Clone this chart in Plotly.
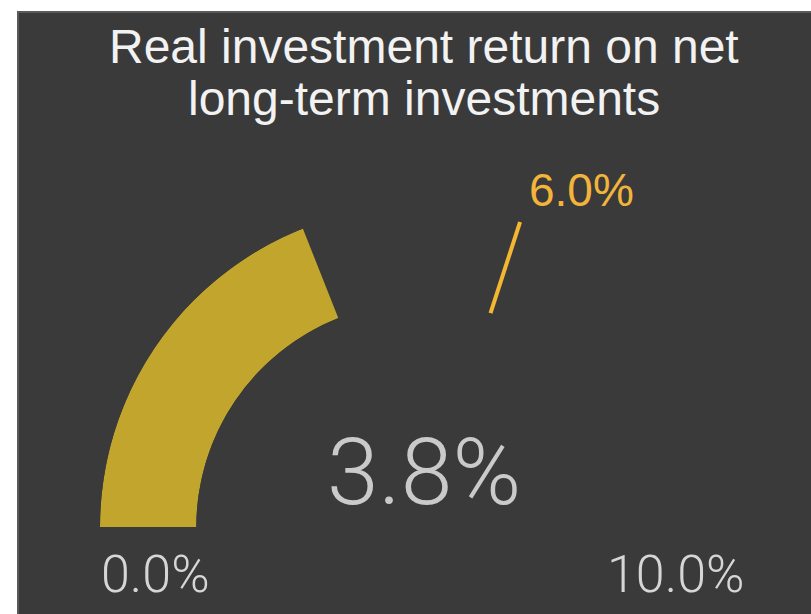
import plotly.graph_objects as go

# ---- data ----
title_lines = ["Real investment return on net", "long-term investments"]
gauge_min = 0.0
gauge_max = 10.0
value = 3.8
target = 6.0
unit = "%"

W, H = 811, 614


def deg(v):
    return (v - gauge_min) / (gauge_max - gauge_min) * 180.0


def px(x):
    return x / W


def py(y):
    return 1 - y / H


FONT = "Liberation Sans, Arial, sans-serif"
LIGHT = "Roboto, Liberation Sans, Arial, sans-serif"

fig = go.Figure()
fig.add_trace(go.Barpolar(
    r=[1], theta=[deg(value) / 2], width=[deg(value)], base=0,
    marker=dict(color="#C2A52C", line=dict(width=0)),
    hoverinfo="skip", showlegend=False,
))
fig.add_trace(go.Scatterpolar(
    r=[0, 1], theta=[deg(target)] * 2, mode="lines",
    line=dict(color="#F4B731", width=4),
    hoverinfo="skip", showlegend=False,
))

fig.update_layout(
    width=W, height=H,
    margin=dict(l=0, r=0, t=0, b=0),
    paper_bgcolor="white",
    showlegend=False,
    polar=dict(
        domain=dict(x=[px(100), px(742)], y=[py(527), py(206)]),
        sector=[0, 180],
        hole=0.70,
        bgcolor="rgba(0,0,0,0)",
        radialaxis=dict(range=[0, 1], visible=False, showgrid=False),
        angularaxis=dict(rotation=180, direction="clockwise", visible=False,
                         showgrid=False),
    ),
    shapes=[dict(
        type="rect", xref="paper", yref="paper",
        x0=px(18), x1=1.02, y0=-0.02, y1=py(12),
        fillcolor="#3A3A3A", line=dict(color="#5A5A5A", width=2), layer="below",
    )],
)

ann = []
ann.append(dict(text=title_lines[0], x=px(424), y=py(46), font=dict(size=48, color="#F2F2F2", family=FONT)))
ann.append(dict(text=title_lines[1], x=px(424), y=py(99), font=dict(size=48, color="#F2F2F2", family=FONT)))
ann.append(dict(text=f"{value:.1f}{unit}", x=px(424), y=py(472), font=dict(size=93, color="#CACACA", family=LIGHT, weight=300)))
ann.append(dict(text=f"{gauge_min:.1f}{unit}", x=px(155), y=py(574), font=dict(size=52, color="#D6D6D6", family=LIGHT, weight=300)))
ann.append(dict(text=f"{gauge_max:.1f}{unit}", x=px(675), y=py(574), font=dict(size=52, color="#D6D6D6", family=LIGHT, weight=300)))
ann.append(dict(text=f"{target:.1f}{unit}", x=px(527), y=py(190), xanchor="left", font=dict(size=46, color="#F2B43A", family=FONT)))
for a in ann:
    a.setdefault("xanchor", "center")
    a.update(xref="paper", yref="paper", yanchor="middle", showarrow=False)
fig.update_layout(annotations=ann)

fig.write_html(
    "out.html",
    config={"displayModeBar": False},
    post_script="document.body.style.margin='0';document.body.style.overflow='hidden';",
)
